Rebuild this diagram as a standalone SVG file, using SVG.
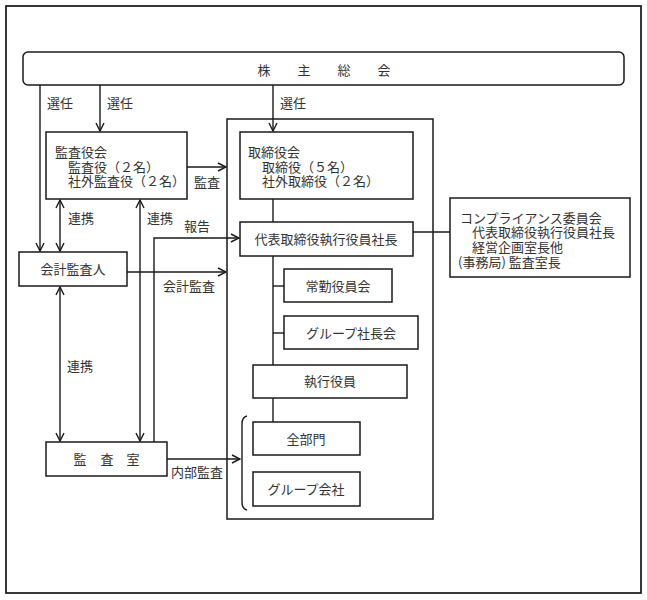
<svg xmlns="http://www.w3.org/2000/svg" width="647" height="600" viewBox="0 0 647 600">
<style>
.box{fill:#fff;stroke:#1a1a1a;stroke-width:1.5}
.ln{fill:none;stroke:#1a1a1a;stroke-width:1.4}
text{font-family:"Noto Sans CJK JP","Noto Sans CJK SC",sans-serif;font-size:13px;fill:#333}
.c{text-anchor:middle}
</style>
<defs>
<marker id="ah" viewBox="0 0 10 10" refX="9" refY="5" markerWidth="10" markerHeight="10" markerUnits="userSpaceOnUse" orient="auto-start-reverse">
<polyline points="1,1 9,5 1,9" fill="none" stroke="#1a1a1a" stroke-width="1.4"/>
</marker>
</defs>
<rect x="6" y="6" width="635" height="587" fill="#fff" stroke="#222" stroke-width="1.8"/>
<rect id="inner-frame" x="227" y="119" width="206" height="400" class="box"/>

<g id="connectors">
<line x1="40" y1="85" x2="40" y2="251" class="ln" marker-end="url(#ah)"/>
<line x1="100" y1="85" x2="100" y2="131" class="ln" marker-end="url(#ah)"/>
<line x1="273" y1="85" x2="273" y2="131" class="ln" marker-end="url(#ah)"/>
<line x1="187" y1="167" x2="226" y2="167" class="ln" marker-end="url(#ah)"/>
<line x1="60" y1="200" x2="60" y2="251" class="ln" marker-start="url(#ah)" marker-end="url(#ah)"/>
<line x1="140" y1="200" x2="140" y2="441" class="ln" marker-start="url(#ah)" marker-end="url(#ah)"/>
<line x1="60" y1="287" x2="60" y2="441" class="ln" marker-start="url(#ah)" marker-end="url(#ah)"/>
<polyline points="154,442 154,238 239,238" class="ln" marker-end="url(#ah)"/>
<line x1="127" y1="272" x2="226" y2="272" class="ln" marker-end="url(#ah)"/>
<line x1="167" y1="459" x2="240" y2="459" class="ln" marker-end="url(#ah)"/>
<line x1="273" y1="199" x2="273" y2="222" class="ln"/>
<line x1="413" y1="232" x2="450" y2="232" class="ln"/>
<line x1="273" y1="256" x2="273" y2="365" class="ln"/>
<line x1="273" y1="286" x2="284" y2="286" class="ln"/>
<line x1="273" y1="333" x2="284" y2="333" class="ln"/>
<line x1="273" y1="398" x2="273" y2="422" class="ln"/>
<path d="M247,416 Q242,417 242,424 L242,502 Q242,509 247,510" class="ln"/>
<text x="47" y="108">選任</text>
<text x="107" y="108">選任</text>
<text x="280" y="108">選任</text>
<text x="194" y="187">監査</text>
<text x="68" y="223">連携</text>
<text x="147" y="223">連携</text>
<text x="184" y="231">報告</text>
<text x="163" y="291">会計監査</text>
<text x="67" y="371">連携</text>
<text x="171" y="477">内部監査</text>
</g>

<g id="kabunushi">
<rect x="23" y="52" width="601" height="33" rx="5" class="box"/>
<text x="264" y="75" class="c">株</text>
<text x="304" y="75" class="c">主</text>
<text x="344" y="75" class="c">総</text>
<text x="384" y="75" class="c">会</text>
</g>

<g id="kansayakukai">
<rect x="46" y="132" width="141" height="67" class="box"/>
<text x="55" y="157">監査役会</text>
<text x="68" y="172">監査役（２名）</text>
<text x="68" y="186">社外監査役（２名）</text>
</g>

<g id="torishimariyakukai">
<rect x="240" y="132" width="173" height="67" class="box"/>
<text x="248" y="157">取締役会</text>
<text x="262" y="172">取締役（５名）</text>
<text x="262" y="186">社外取締役（２名）</text>
</g>

<g id="shacho">
<rect x="240" y="222" width="173" height="34" class="box"/>
<text x="326" y="244" class="c">代表取締役執行役員社長</text>
</g>

<g id="compliance">
<rect x="450" y="198" width="180" height="79" class="box"/>
<text x="460" y="223">コンプライアンス委員会</text>
<text x="472" y="237">代表取締役執行役員社長</text>
<text x="472" y="252">経営企画室長他</text>
<text x="458" y="267">(事務局) 監査室長</text>
</g>

<g id="kaikei">
<rect x="19" y="252" width="108" height="34" class="box"/>
<text x="73" y="274" class="c">会計監査人</text>
</g>

<g id="jokin">
<rect x="284" y="269" width="108" height="33" class="box"/>
<text x="338" y="291" class="c">常勤役員会</text>
</g>

<g id="group-shacho">
<rect x="284" y="316" width="134" height="33" class="box"/>
<text x="351" y="338" class="c">グループ社長会</text>
</g>

<g id="shikko">
<rect x="253" y="365" width="154" height="33" class="box"/>
<text x="330" y="386" class="c">執行役員</text>
</g>

<g id="zenbumon">
<rect x="253" y="422" width="107" height="33" class="box"/>
<text x="306" y="444" class="c">全部門</text>
</g>

<g id="group-kaisha">
<rect x="253" y="472" width="107" height="34" class="box"/>
<text x="306" y="494" class="c">グループ会社</text>
</g>

<g id="kansashitsu">
<rect x="46" y="442" width="121" height="34" class="box"/>
<text x="80" y="464" class="c">監</text>
<text x="107" y="464" class="c">査</text>
<text x="133" y="464" class="c">室</text>
</g>
</svg>
